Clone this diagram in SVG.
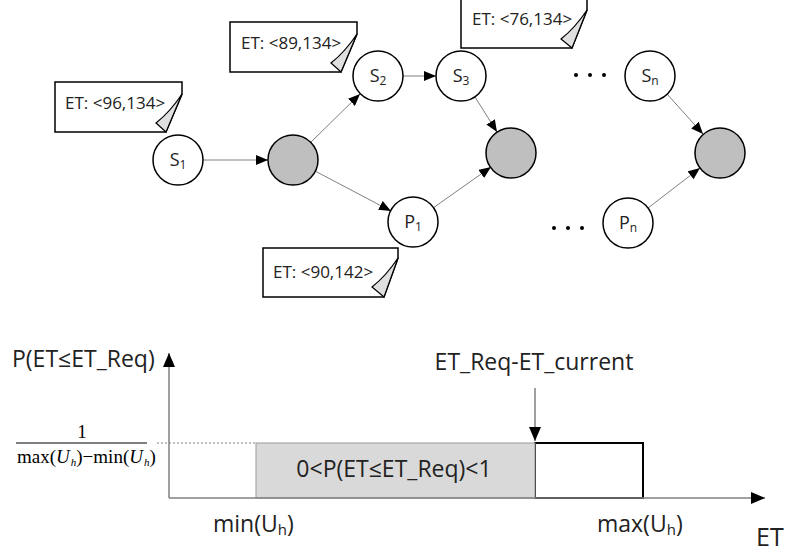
<svg xmlns="http://www.w3.org/2000/svg" width="788" height="552" viewBox="0 0 788 552">
<defs>
<marker id="ah" markerUnits="userSpaceOnUse" markerWidth="12" markerHeight="10" refX="12" refY="5" orient="auto"><path d="M0,0 L12,5 L0,10 z" fill="#000"/></marker>
<marker id="ahb" markerUnits="userSpaceOnUse" markerWidth="14" markerHeight="12" refX="14" refY="6" orient="auto"><path d="M0,0 L14,6 L0,12 z" fill="#000"/></marker>
<style>
.n{fill:#fff;stroke:#000;stroke-width:1.5}
.g{fill:#bfbfbf;stroke:#000;stroke-width:1.5}
.c{stroke:#808080;stroke-width:1;fill:none}
.co{fill:#fff;stroke:#000;stroke-width:1.5}
.curl{fill:#e0e0e0;stroke:#000;stroke-width:1.2}
.t{font-family:"Open Sans","DejaVu Sans",sans-serif;fill:#222}
.nl{font-family:"Open Sans","DejaVu Sans",sans-serif;font-size:18px;fill:#222;text-anchor:middle}
.ax{stroke:#808080;stroke-width:1.5;fill:none}
.ser{font-family:"Liberation Serif","Times New Roman",serif;font-size:19px;fill:#000}
</style>
</defs>
<rect width="788" height="552" fill="#fff"/>

<g id="connectors">
<line class="c" x1="203" y1="160" x2="268" y2="160" marker-end="url(#ah)"/>
<line class="c" x1="311" y1="142" x2="360" y2="94" marker-end="url(#ah)"/>
<line class="c" x1="403" y1="76" x2="436" y2="76" marker-end="url(#ah)"/>
<line class="c" x1="475" y1="97" x2="497" y2="132" marker-end="url(#ah)"/>
<line class="c" x1="315" y1="171" x2="391" y2="211" marker-end="url(#ah)"/>
<line class="c" x1="433" y1="208" x2="491" y2="167" marker-end="url(#ah)"/>
<line class="c" x1="667" y1="94" x2="703" y2="134" marker-end="url(#ah)"/>
<line class="c" x1="648" y1="208" x2="700" y2="168" marker-end="url(#ah)"/>
</g>

<g id="S1"><circle class="n" cx="178" cy="160" r="25"/><text class="nl" x="178" y="166">S<tspan font-size="12" dy="3">1</tspan></text></g>
<g id="G1"><circle class="g" cx="293" cy="160" r="25"/></g>
<g id="S2"><circle class="n" cx="378" cy="76" r="25"/><text class="nl" x="378" y="82">S<tspan font-size="12" dy="3">2</tspan></text></g>
<g id="S3"><circle class="n" cx="461" cy="76" r="25"/><text class="nl" x="461" y="82">S<tspan font-size="12" dy="3">3</tspan></text></g>
<g id="G2"><circle class="g" cx="511" cy="153" r="25"/></g>
<g id="P1"><circle class="n" cx="413" cy="222" r="25"/><text class="nl" x="413" y="228">P<tspan font-size="12" dy="3">1</tspan></text></g>
<g id="Sn"><circle class="n" cx="650" cy="76" r="25"/><text class="nl" x="650" y="82">S<tspan font-size="12" dy="3">n</tspan></text></g>
<g id="G3"><circle class="g" cx="720" cy="153" r="25"/></g>
<g id="Pn"><circle class="n" cx="628" cy="223" r="25"/><text class="nl" x="628" y="229">P<tspan font-size="12" dy="3">n</tspan></text></g>

<g id="dots" fill="#000">
<circle cx="576" cy="75" r="2"/><circle cx="590" cy="75" r="2"/><circle cx="604" cy="75" r="2"/>
<circle cx="554" cy="228" r="2"/><circle cx="568" cy="228" r="2"/><circle cx="582" cy="228" r="2"/>
</g>

<g id="callout1">
<path class="co" d="M55,82 H182 V94 L166,132 H55 Z"/>
<path class="curl" d="M182,94 Q170,112 156,123 L166,132 Z"/>
<text class="t" x="65" y="109" font-size="17">ET: &lt;96,134&gt;</text>
</g>
<g id="callout2">
<path class="co" d="M230,22 H357 V34 L341,72 H230 Z"/>
<path class="curl" d="M357,34 Q345,52 331,63 L341,72 Z"/>
<text class="t" x="241" y="49" font-size="17">ET: &lt;89,134&gt;</text>
</g>
<g id="callout3">
<path class="co" d="M461,-2 H587 V10 L572,48 H461 Z"/>
<path class="curl" d="M587,10 Q575,28 561,39 L572,48 Z"/>
<text class="t" x="472" y="25" font-size="17">ET: &lt;76,134&gt;</text>
</g>
<g id="callout4">
<path class="co" d="M263,248 H398 V258 L384,297 H263 Z"/>
<path class="curl" d="M398,258 Q386,276 372,287 L384,297 Z"/>
<text class="t" x="273" y="278" font-size="17">ET: &lt;90,142&gt;</text>
</g>

<g id="chart">
<line x1="157" y1="443" x2="256" y2="443" stroke="#808080" stroke-width="1" stroke-dasharray="2,2"/>
<rect x="535" y="443" width="108" height="55" fill="#fff" stroke="#000" stroke-width="2"/>
<rect x="256" y="443" width="279" height="55" fill="#d9d9d9" stroke="#999" stroke-width="1"/>
<line class="ax" x1="169" y1="498" x2="169" y2="353" marker-end="url(#ahb)"/>
<line class="ax" x1="169" y1="498" x2="765" y2="498" marker-end="url(#ahb)"/>
<line class="ax" x1="535" y1="388" x2="535" y2="441" marker-end="url(#ahb)"/>
<text class="t" x="12" y="367" font-size="23">P(ET≤ET_Req)</text>
<text class="t" x="534" y="370" font-size="23" text-anchor="middle">ET_Req-ET_current</text>
<text class="t" x="394" y="477" font-size="23" text-anchor="middle">0&lt;P(ET≤ET_Req)&lt;1</text>
<text class="t" x="213" y="532" font-size="23">min(U<tspan font-size="15" dy="3">h</tspan><tspan dy="-3">)</tspan></text>
<text class="t" x="597" y="532" font-size="23">max(U<tspan font-size="15" dy="3">h</tspan><tspan dy="-3">)</tspan></text>
<text class="t" x="756" y="546" font-size="25">ET</text>
<text class="ser" x="82" y="438" text-anchor="middle">1</text>
<line x1="16" y1="443" x2="147" y2="443" stroke="#000" stroke-width="1"/>
<text class="ser" x="17" y="463" font-size="17">max(<tspan font-style="italic">U</tspan><tspan font-style="italic" font-size="11" dx="1" dy="3">h</tspan><tspan dy="-3">)−min(</tspan><tspan font-style="italic">U</tspan><tspan font-style="italic" font-size="11" dx="1" dy="3">h</tspan><tspan dy="-3">)</tspan></text>
</g>
</svg>
